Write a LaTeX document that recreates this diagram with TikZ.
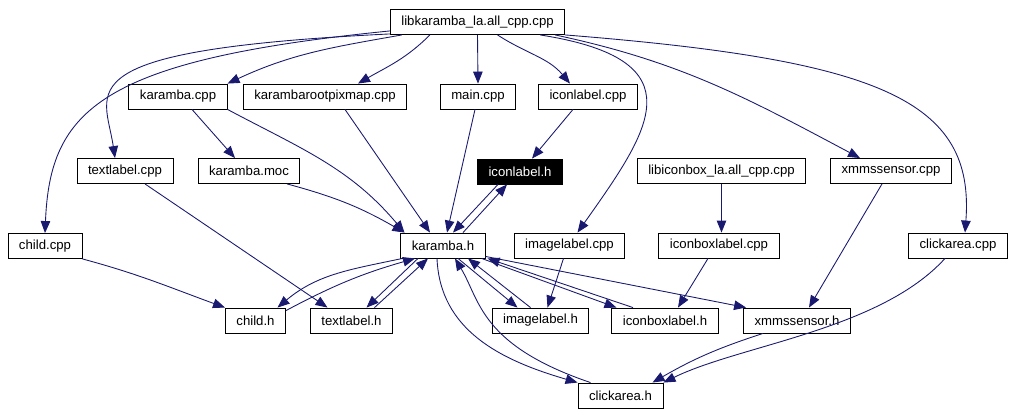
\documentclass[tikz,border=0pt]{standalone}
\usepackage{fontspec}
\setmainfont{Liberation Sans}
\usepackage{tikz}
\usetikzlibrary{arrows.meta,calc}
\definecolor{edgeblue}{HTML}{191970}
\tikzset{
  file/.style={draw,rectangle,line width=0.5pt,minimum height=0.5cm,inner xsep=0.22cm,inner ysep=0pt,font=\fontsize{7.5pt}{9pt}\selectfont},
  dep/.style={draw=edgeblue,line width=0.5pt,-{Triangle[length=0.24cm,width=0.19cm]}}
}
\begin{document}
\begin{tikzpicture}[x=0.02cm,y=-0.02cm]
\useasboundingbox (0,0) rectangle (1014,415);

\node [file] (lib) at(477.5,22){libkaramba\_la.all\_cpp.cpp};

\node [file] (kcpp) at(178,96.5){karamba.cpp};
\node [file] (krp) at(325,96.5){karambarootpixmap.cpp};
\node [file] (maincpp) at(478,96.5){main.cpp};
\node [file] (ilcpp) at(588,96.5){iconlabel.cpp};

\node [file] (tlcpp) at(125,171){textlabel.cpp};
\node [file] (kmoc) at(249,171){karamba.moc};
\node [file,fill=black,text=white] (ilh) at(520,171.5){iconlabel.h};
\node [file] (libib) at(721.5,171){libiconbox\_la.all\_cpp.cpp};
\node [file] (xmcpp) at(891,171){xmmssensor.cpp};

\node [file] (chcpp) at(45,246){child.cpp};
\node [file] (kh) at(443,245.5){karamba.h};
\node [file] (imcpp) at(569.5,245.5){imagelabel.cpp};
\node [file] (ibcpp) at(719,245.5){iconboxlabel.cpp};
\node [file] (cacpp) at(958,245.5){clickarea.cpp};

\node [file] (chh) at(255.5,320.5){child.h};
\node [file] (tlh) at(351.5,320.5){textlabel.h};
\node [file] (imh) at(540.5,320.5){imagelabel.h};
\node [file] (ibh) at(665,320.5){iconboxlabel.h};
\node [file] (xmh) at(797,320.5){xmmssensor.h};

\node [file] (cah) at(620.5,395.5){clickarea.h};

% from the top file
\draw[dep] ($(lib.south west)+(0,-4)$) .. controls (100,60) and (50,110) .. (chcpp.north);
\draw[dep] ($(lib.south west)+(0,-1)$) .. controls (60,50) and (105,90) .. ($(tlcpp.north)+(-10,0)$);
\draw[dep] ($(lib.south west)+(12,0)$) to[out=190,in=25] (kcpp.north east);
\draw[dep] ($(lib.south west)+(40,0)$) to[out=-135,in=30] ($(krp.north)+(33,0)$);
\draw[dep] (lib.south) -- (maincpp.north);
\draw[dep] ($(lib.south)+(20,0)$) to[out=-33,in=130] ($(ilcpp.north)+(-18,0)$);
\draw[dep] ($(lib.south east)+(-25,0)$) .. controls (700,60) and (650,130) .. ($(imcpp.north)+(8,0)$);
\draw[dep] ($(lib.south east)+(-10,0)$) to[out=-12,in=152] ($(xmcpp.north)+(-31,0)$);
\draw[dep] (lib.south east) .. controls (880,60) and (975,100) .. ($(cacpp.north)+(7,0)$);

\draw[dep] ($(kcpp.south)+(14,0)$) -- ($(kmoc.north)+(-14,0)$);
\draw[dep] (kcpp.south east) to[out=-28,in=130] ($(kh.north west)+(4,0)$);
\draw[dep] ($(kmoc.south)+(38,0)$) to[out=-15,in=150] ($(kh.north west)+(4,0)$);
\draw[dep] ($(krp.south)+(20,0)$) -- ($(kh.north)+(-13,0)$);
\draw[dep] ($(maincpp.south)+(-3,0)$) -- ($(kh.north)+(4,0)$);
\draw[dep] ($(ilcpp.south)+(-15,0)$) -- ($(ilh.north)+(12,0)$);
\draw[dep] ($(ilh.south)+(-22,0)$) -- ($(kh.north)+(10,0)$);
\draw[dep] ($(kh.north)+(20,0)$) -- ($(ilh.south)+(-13,0)$);

\draw[dep] ($(tlcpp.south)+(20,0)$) -- ($(tlh.north)+(-24,0)$);
\draw[dep] (chcpp.south east) to[out=-15,in=160] (chh.north west);
\draw[dep] ($(imcpp.south)+(-6,0)$) -- ($(imh.north)+(7,0)$);
\draw[dep] (libib.south) -- (libib.south |- ibcpp.north);
\draw[dep] ($(ibcpp.south)+(-11,0)$) -- ($(ibh.north)+(13,0)$);
\draw[dep] ($(xmcpp.south)+(-9,0)$) -- ($(xmh.north)+(12,0)$);
\draw[dep] ($(cacpp.south)+(-13,0)$) .. controls (880,330) and (740,345) .. (cah.north east);
\draw[dep] ($(xmh.south)+(-34,0)$) to[out=198,in=30] ($(cah.north)+(32,0)$);

% karamba.h and the headers
\draw[dep] ($(kh.south west)+(2,0)$) to[out=192,in=40] ($(chh.north)+(22,0)$);
\draw[dep] ($(chh.north east)+(0,3)$) to[out=28,in=196] ($(kh.south)+(-28,0)$);
\draw[dep] ($(kh.south)+(-25,0)$) -- ($(tlh.north)+(15,0)$);
\draw[dep] ($(tlh.north)+(23,0)$) -- ($(kh.south)+(-15,0)$);
\draw[dep] ($(kh.south)+(15,0)$) -- ($(imh.north)+(-23,0)$);
\draw[dep] ($(imh.north)+(-10,0)$) -- ($(kh.south)+(25,0)$);
\draw[dep] ($(kh.south east)+(-4,0)$) -- ($(ibh.north west)+(5,0)$);
\draw[dep] ($(ibh.north)+(-32,0)$) -- ($(kh.south east)+(2,0)$);
\draw[dep] ($(kh.south east)+(0,-2)$) -- ($(xmh.north west)+(3,0)$);
\draw[dep] ($(kh.south)+(-6,0)$) .. controls (440,330) and (500,360) .. (cah.north west);
\draw[dep] ($(cah.north)+(-30,0)$) .. controls (480,345) and (480,300) .. ($(kh.south)+(12,0)$);

\end{tikzpicture}
\end{document}
